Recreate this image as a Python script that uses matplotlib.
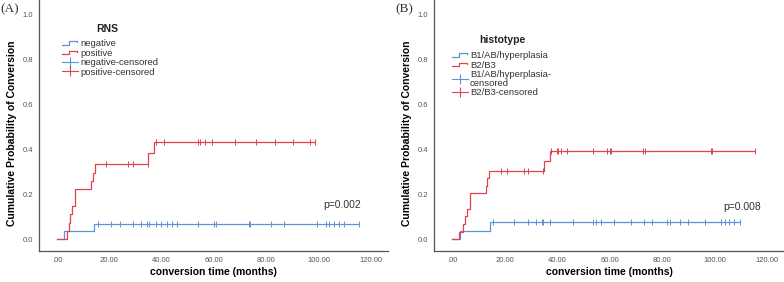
import numpy as np
import matplotlib
matplotlib.use("Agg")
import matplotlib.pyplot as plt
from matplotlib.lines import Line2D
from matplotlib.legend_handler import HandlerBase

plt.rcParams['font.family'] = ['Liberation Sans', 'DejaVu Sans']

RED = '#e0434c'
BLUE = '#5b93d5'
GREY = '#555555'

# --- (A) RNS: event times (months) and cumulative probability after each event
rns_neg_event_t = [2.7, 14.0]
rns_neg_event_p = [0.037, 0.068]
rns_neg_censor_t = [15.5, 20.8, 24.0, 29.1, 32.2, 34.5, 35.0, 37.7, 39.9, 41.9, 44.1,
                    46.0, 53.8, 60.0, 60.9, 73.2, 73.8, 81.7, 86.7, 99.2, 102.7, 104.1,
                    105.9, 107.6, 109.5, 115.3]
rns_pos_event_t = [3.7, 4.4, 5.0, 5.6, 6.9, 13.0, 13.6, 14.4, 34.9, 37.2]
rns_pos_event_p = [0.037, 0.074, 0.111, 0.148, 0.222, 0.259, 0.296, 0.333, 0.382, 0.431]
rns_pos_censor_t = [18.6, 27.2, 29.1, 34.8, 37.7, 40.7, 53.7, 54.6, 56.7, 59.1, 68.2,
                    75.9, 83.3, 90.0, 96.7, 98.6]

# --- (B) histotype
hist_b1_event_t = [3.1, 14.6]
hist_b1_event_p = [0.037, 0.075]
hist_b1_censor_t = [15.4, 23.7, 28.8, 32.1, 34.4, 34.8, 37.5, 45.9, 53.7, 54.8, 56.8,
                    61.7, 68.1, 73.2, 76.0, 81.8, 83.2, 86.7, 90.1, 96.5, 102.4, 104.0,
                    105.7, 107.5, 109.7]
hist_b2_event_t = [2.7, 4.2, 4.8, 5.6, 6.9, 12.8, 13.4, 14.0, 35.0, 37.3]
hist_b2_event_p = [0.034, 0.068, 0.102, 0.136, 0.204, 0.237, 0.271, 0.305, 0.349, 0.394]
hist_b2_censor_t = [18.8, 20.8, 27.4, 29.1, 34.7, 37.6, 39.9, 40.5, 41.5, 43.9, 53.6,
                    59.1, 60.0, 60.5, 72.8, 73.6, 98.5, 99.2, 115.3]

x_ticks = [0, 20, 40, 60, 80, 100, 120]
x_ticklabels = ['.00', '20.00', '40.00', '60.00', '80.00', '100.00', '120.00']
y_ticks = [0.0, 0.2, 0.4, 0.6, 0.8, 1.0]
y_ticklabels = ['0.0', '0.2', '0.4', '0.6', '0.8', '1.0']


def step_curve(event_t, event_p, end_t):
    t = np.concatenate([[0.0], event_t, [end_t]])
    p = np.concatenate([[0.0], event_p, [event_p[-1]]])
    return t, p


def level_at(event_t, event_p, tt):
    idx = np.searchsorted(event_t, tt, side='right')
    return np.concatenate([[0.0], event_p])[idx]


class StepHandler(HandlerBase):
    """ small step shaped legend key, like the SPSS output """
    def create_artists(self, legend, orig_handle, xdescent, ydescent,
                       width, height, fontsize, trans):
        x0 = -xdescent
        x1 = x0 + width
        xm = x0 + width * 0.45
        y0 = -ydescent + height * 0.2
        y1 = -ydescent + height * 0.75
        line = Line2D([x0, xm, xm, x1 - 1, x1 - 1], [y0, y0, y1, y1, y1 - height * 0.2],
                      color=orig_handle.get_color(), lw=0.9)
        line.set_transform(trans)
        return [line]


def draw_panel(ax, groups, title, title_xy, labels, pval, ptext_xy, legend_xy):
    handles = []
    handler_map = {}
    for ev_t, ev_p, cen_t, color in groups:
        end_t = max(cen_t[-1], ev_t[-1])
        t, p = step_curve(ev_t, ev_p, end_t)
        ax.step(t, p, where='post', color=color, lw=0.9)
        cen_t = np.array(cen_t)
        ax.plot(cen_t, level_at(ev_t, ev_p, cen_t), ls='none', marker='|',
                ms=4.5, mew=0.7, color=color)
        h = Line2D([], [], color=color, lw=0.9)
        handles.append(h)
        handler_map[h] = StepHandler()
    for _, _, _, color in groups:
        handles.append(Line2D([], [], color=color, lw=0.8, marker='|', ms=7, mew=0.8))

    leg = ax.legend(handles, labels, handler_map=handler_map,
                    loc='upper left', bbox_to_anchor=legend_xy,
                    bbox_transform=ax.figure.transFigure, frameon=False,
                    fontsize=6.8, borderpad=0, borderaxespad=0, handlelength=1.7,
                    handletextpad=0.2, labelspacing=0.06, numpoints=1)
    for txt in leg.get_texts():
        txt.set_color('#333333')
        txt.set_linespacing(0.95)
    # legend title drawn as its own text, SPSS puts it well above the keys
    ax.figure.text(title_xy[0], title_xy[1], title, fontsize=7.5, fontweight='bold',
                   ha='center', va='center', color='#222222')

    ax.text(ptext_xy[0], ptext_xy[1], pval, fontsize=7.5, color='#333333', ha='center',
            va='center')

    ax.set_xlim(-6.9, 126.5)
    ax.set_ylim(-0.052, 1.064)
    ax.set_xticks(x_ticks)
    ax.set_xticklabels(x_ticklabels)
    ax.set_yticks(y_ticks)
    ax.set_yticklabels(y_ticklabels)
    ax.tick_params(length=0, labelsize=5.5, labelcolor=GREY, pad=4)
    ax.spines['top'].set_visible(False)
    ax.spines['right'].set_visible(False)
    for s in ('left', 'bottom'):
        ax.spines[s].set_color('#555555')
        ax.spines[s].set_linewidth(0.9)
    ax.set_xlabel('conversion time (months)', fontsize=7.5, fontweight='bold')
    ax.set_ylabel('Cumulative Probability of Conversion', fontsize=7.5, fontweight='bold')
    ax.xaxis.set_label_coords(0.5, -0.085)
    ax.xaxis.label.set_va('center')
    ax.yaxis.set_label_coords(-0.077, 0.47)
    ax.yaxis.label.set_va('center')


fig = plt.figure(figsize=(7.84, 2.82), dpi=100)
axA = fig.add_axes([39 / 784, 31 / 282, 349 / 784, 251 / 282])
axB = fig.add_axes([434 / 784, 31 / 282, 350 / 784, 251 / 282])

draw_panel(axA,
           [(rns_neg_event_t, rns_neg_event_p, rns_neg_censor_t, BLUE),
            (rns_pos_event_t, rns_pos_event_p, rns_pos_censor_t, RED)],
           'RNS', (107 / 784, 1 - 29 / 282),
           ['negative', 'positive', 'negative-censored', 'positive-censored'],
           'p=0.002', (108.9, 0.152), (62 / 784, 1 - 39 / 282))
draw_panel(axB,
           [(hist_b1_event_t, hist_b1_event_p, hist_b1_censor_t, BLUE),
            (hist_b2_event_t, hist_b2_event_p, hist_b2_censor_t, RED)],
           'histotype', (502 / 784, 1 - 40 / 282),
           ['B1/AB/hyperplasia', 'B2/B3', 'B1/AB/hyperplasia-\ncensored', 'B2/B3-censored'],
           'p=0.008', (110.5, 0.144), (452 / 784, 1 - 51 / 282))

fig.text(0.0, 1 - 9 / 282, '(A)', family=['Liberation Serif', 'DejaVu Serif'],
         fontsize=9.5, va='center', ha='left', color='#333333')
fig.text(395 / 784, 1 - 9 / 282, '(B)', family=['Liberation Serif', 'DejaVu Serif'],
         fontsize=9.5, va='center', ha='left', color='#333333')

fig.savefig('out.png', dpi=100)
